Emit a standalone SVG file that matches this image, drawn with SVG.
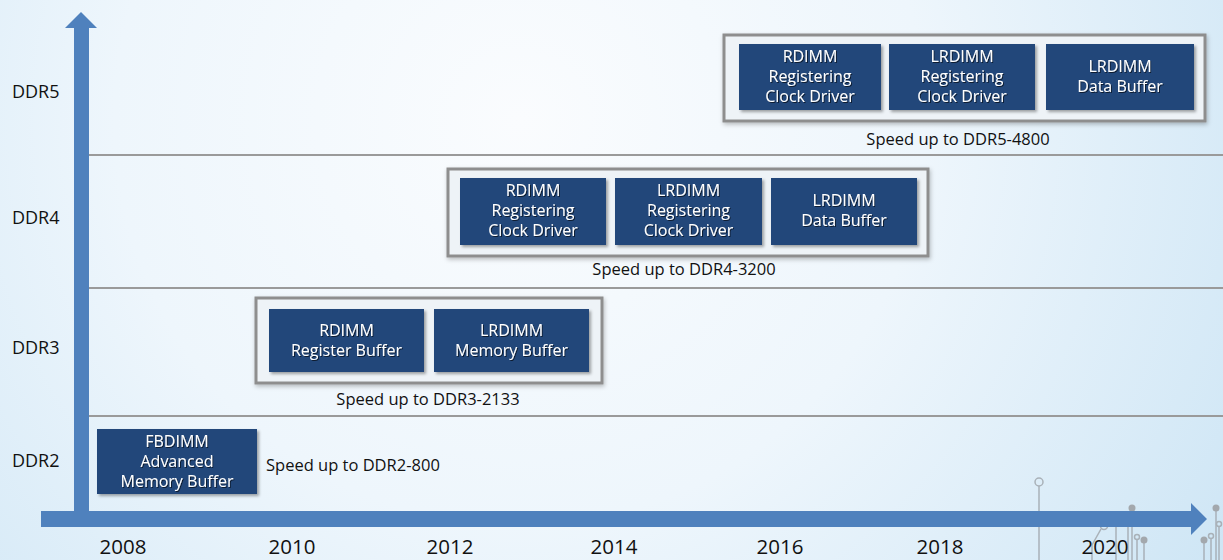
<svg xmlns="http://www.w3.org/2000/svg" width="1223" height="560" viewBox="0 0 1223 560">
<defs>
<radialGradient id="bg" cx="520" cy="120" r="900" gradientUnits="userSpaceOnUse">
<stop offset="0" stop-color="#fafcfe"/>
<stop offset="0.45" stop-color="#eef6fc"/>
<stop offset="1" stop-color="#c9e3f4"/>
</radialGradient>
<filter id="sh" x="-10%" y="-10%" width="130%" height="140%">
<feDropShadow dx="2" dy="2" stdDeviation="1.5" flood-color="#000" flood-opacity="0.35"/>
</filter>
<filter id="gsh" x="-5%" y="-10%" width="115%" height="130%">
<feDropShadow dx="1" dy="2" stdDeviation="2" flood-color="#000" flood-opacity="0.25"/>
</filter>
<filter id="tsh" x="-10%" y="-20%" width="120%" height="150%">
<feDropShadow dx="1" dy="1" stdDeviation="0.6" flood-color="#000" flood-opacity="0.6"/>
</filter>
</defs>
<style>
.grp{fill:#eef3f7;stroke:#8e8e8e;stroke-width:3;}
.box{fill:#23467a;}
.bt{font-family:"Open Sans",sans-serif;font-size:16px;fill:#ffffff;text-anchor:middle;}
.sp{font-family:"Open Sans",sans-serif;font-size:16.5px;fill:#111;}
.lbl{font-family:"Open Sans",sans-serif;font-size:18px;fill:#111;}
.yr{font-family:"Open Sans",sans-serif;font-size:20.5px;fill:#111;text-anchor:middle;}
.sep{stroke:#9a9a9a;stroke-width:2;fill:none;}
.axis{fill:#4f81bd;}
.cl{stroke:#a9b1b8;stroke-width:1.5;fill:none;}
.cf{fill:#a3a8ad;}
.ch{fill:none;stroke:#a9b1b8;stroke-width:1.5;}
</style>
<rect x="0" y="0" width="1223" height="560" fill="url(#bg)"/>

<g id="circuit">
<line class="cl" x1="1039" y1="486" x2="1039" y2="560"/>
<circle class="ch" cx="1039" cy="482" r="4"/>
<line class="cl" x1="1092" y1="560" x2="1092" y2="545"/>
<line class="cl" x1="1092" y1="545" x2="1101" y2="529"/>
<circle class="ch" cx="1104" cy="526" r="3.5"/>
<line class="cl" x1="1116" y1="527" x2="1116" y2="560"/>
<line class="cl" x1="1128" y1="520" x2="1128" y2="560"/>
<line class="cl" x1="1132" y1="508" x2="1132" y2="560"/>
<circle class="cf" cx="1132" cy="508" r="3.5"/>
<line class="cl" x1="1137" y1="540" x2="1137" y2="560"/>
<circle class="ch" cx="1137" cy="537" r="2.5"/>
<line class="cl" x1="1144" y1="540" x2="1144" y2="560"/>
<circle class="cf" cx="1144" cy="540" r="3.5"/>
<line class="cl" x1="1204" y1="540" x2="1204" y2="560"/>
<circle class="cf" cx="1204" cy="540" r="3.5"/>
<line class="cl" x1="1211" y1="539" x2="1211" y2="560"/>
<circle class="ch" cx="1211" cy="536" r="2.5"/>
<line class="cl" x1="1216" y1="508" x2="1216" y2="560"/>
<circle class="cf" cx="1216" cy="508" r="3.5"/>
<line class="cl" x1="1219" y1="527" x2="1219" y2="560"/>
<circle class="ch" cx="1219" cy="524" r="2.5"/>
</g>

<g id="connectors">
<line class="sep" x1="89" y1="155" x2="1223" y2="155"/>
<line class="sep" x1="89" y1="288" x2="1223" y2="288"/>
<line class="sep" x1="89" y1="416" x2="1223" y2="416"/>
<polygon class="axis" points="74,527 74,28 65,28 81,12 97,28 89,28 89,511 74,511"/>
<polygon class="axis" points="41,511 1191,511 1191,503 1207,519 1191,535 1191,527 41,527"/>
</g>

<g id="row-labels">
<text class="lbl" x="12" y="98">DDR5</text>
<text class="lbl" x="12" y="224">DDR4</text>
<text class="lbl" x="12" y="354">DDR3</text>
<text class="lbl" x="12" y="467">DDR2</text>
</g>

<g id="years">
<text class="yr" x="123" y="554">2008</text>
<text class="yr" x="292" y="554">2010</text>
<text class="yr" x="450" y="554">2012</text>
<text class="yr" x="614" y="554">2014</text>
<text class="yr" x="780" y="554">2016</text>
<text class="yr" x="940" y="554">2018</text>
<text class="yr" x="1105" y="554">2020</text>
</g>

<g id="ddr5">
<rect class="grp" x="724" y="35" width="481" height="86" filter="url(#gsh)"/>
<g id="ddr5-rdimm-rcd">
<rect class="box" x="739" y="44" width="142" height="66" filter="url(#sh)"/>
<text class="bt" filter="url(#tsh)"><tspan x="810" y="62">RDIMM</tspan><tspan x="810" y="82">Registering</tspan><tspan x="810" y="102">Clock Driver</tspan></text>
</g>
<g id="ddr5-lrdimm-rcd">
<rect class="box" x="889" y="44" width="146" height="66" filter="url(#sh)"/>
<text class="bt" filter="url(#tsh)"><tspan x="962" y="62">LRDIMM</tspan><tspan x="962" y="82">Registering</tspan><tspan x="962" y="102">Clock Driver</tspan></text>
</g>
<g id="ddr5-lrdimm-db">
<rect class="box" x="1046" y="44" width="148" height="66" filter="url(#sh)"/>
<text class="bt" filter="url(#tsh)"><tspan x="1120" y="72">LRDIMM</tspan><tspan x="1120" y="92">Data Buffer</tspan></text>
</g>
<text class="sp" x="958" y="145" text-anchor="middle">Speed up to DDR5-4800</text>
</g>

<g id="ddr4">
<rect class="grp" x="448" y="169" width="480" height="87" filter="url(#gsh)"/>
<g id="ddr4-rdimm-rcd">
<rect class="box" x="460" y="178" width="146" height="67" filter="url(#sh)"/>
<text class="bt" filter="url(#tsh)"><tspan x="533" y="196">RDIMM</tspan><tspan x="533" y="216">Registering</tspan><tspan x="533" y="236">Clock Driver</tspan></text>
</g>
<g id="ddr4-lrdimm-rcd">
<rect class="box" x="615" y="178" width="147" height="67" filter="url(#sh)"/>
<text class="bt" filter="url(#tsh)"><tspan x="688.5" y="196">LRDIMM</tspan><tspan x="688.5" y="216">Registering</tspan><tspan x="688.5" y="236">Clock Driver</tspan></text>
</g>
<g id="ddr4-lrdimm-db">
<rect class="box" x="771" y="178" width="146" height="67" filter="url(#sh)"/>
<text class="bt" filter="url(#tsh)"><tspan x="844" y="206">LRDIMM</tspan><tspan x="844" y="226">Data Buffer</tspan></text>
</g>
<text class="sp" x="684" y="275" text-anchor="middle">Speed up to DDR4-3200</text>
</g>

<g id="ddr3">
<rect class="grp" x="256" y="298" width="346" height="85" filter="url(#gsh)"/>
<g id="ddr3-rdimm-rb">
<rect class="box" x="269" y="309" width="155" height="63" filter="url(#sh)"/>
<text class="bt" filter="url(#tsh)"><tspan x="346.5" y="336">RDIMM</tspan><tspan x="346.5" y="356">Register Buffer</tspan></text>
</g>
<g id="ddr3-lrdimm-mb">
<rect class="box" x="434" y="309" width="155" height="63" filter="url(#sh)"/>
<text class="bt" filter="url(#tsh)"><tspan x="511.5" y="336">LRDIMM</tspan><tspan x="511.5" y="356">Memory Buffer</tspan></text>
</g>
<text class="sp" x="428" y="405" text-anchor="middle">Speed up to DDR3-2133</text>
</g>

<g id="ddr2">
<g id="ddr2-fbdimm-amb">
<rect class="box" x="97" y="429" width="160" height="65" filter="url(#sh)"/>
<text class="bt" filter="url(#tsh)"><tspan x="177" y="447">FBDIMM</tspan><tspan x="177" y="467">Advanced</tspan><tspan x="177" y="487">Memory Buffer</tspan></text>
</g>
<text class="sp" x="266" y="471">Speed up to DDR2-800</text>
</g>
</svg>
